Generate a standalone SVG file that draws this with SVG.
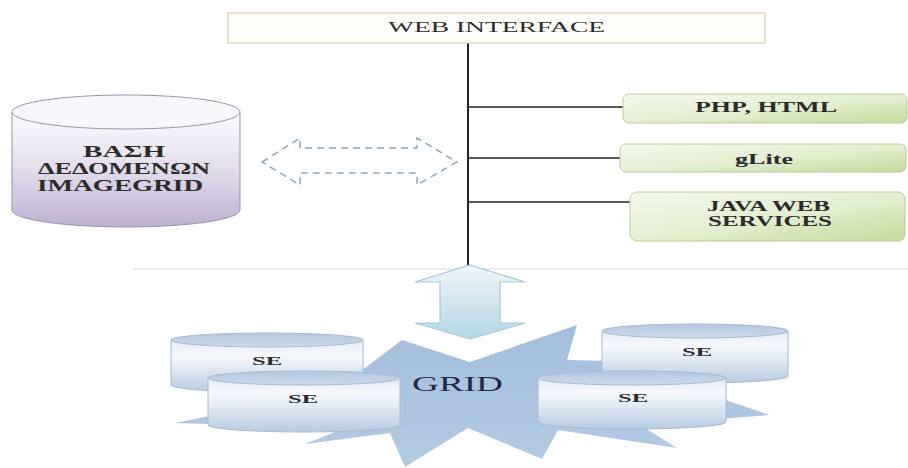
<svg xmlns="http://www.w3.org/2000/svg" width="908" height="468" viewBox="0 0 908 468">
<defs>
  <linearGradient id="gGreen" x1="0" y1="0" x2="1" y2="1">
    <stop offset="0" stop-color="#f4f9ec"/>
    <stop offset="0.55" stop-color="#e2eece"/>
    <stop offset="1" stop-color="#c3da9c"/>
  </linearGradient>
  <linearGradient id="gDb" x1="0" y1="0" x2="0" y2="1">
    <stop offset="0" stop-color="#fdfcfe"/>
    <stop offset="0.45" stop-color="#e6e0ee"/>
    <stop offset="1" stop-color="#bdb0d2"/>
  </linearGradient>
  <linearGradient id="gSe" x1="0" y1="0" x2="0" y2="1">
    <stop offset="0" stop-color="#e4ecf6"/>
    <stop offset="0.3" stop-color="#f7f9fc"/>
    <stop offset="1" stop-color="#b7cbe2"/>
  </linearGradient>
  <linearGradient id="gSeTop" x1="0" y1="0" x2="0" y2="1">
    <stop offset="0" stop-color="#b3c7df"/>
    <stop offset="1" stop-color="#cbd9ea"/>
  </linearGradient>
  <linearGradient id="gStar" x1="0" y1="0" x2="0" y2="1">
    <stop offset="0" stop-color="#a3bddb"/>
    <stop offset="1" stop-color="#b4cbe3"/>
  </linearGradient>
  <linearGradient id="gArrow" x1="0" y1="0" x2="0" y2="1">
    <stop offset="0" stop-color="#eef6fa"/>
    <stop offset="1" stop-color="#b5d6e6"/>
  </linearGradient>
  <style>
    .t { font-family: "Liberation Serif", "Times New Roman", serif; fill: #2b2b2b; text-anchor: middle; }
    .b { font-weight: bold; }
    .green { fill: url(#gGreen); stroke: #b7cd97; stroke-width: 1; }
    .line { stroke: #222; fill: none; }
    .se-body { fill: url(#gSe); stroke: #a6bad2; stroke-width: 1; }
    .se-top { fill: url(#gSeTop); stroke: #a6bad2; stroke-width: 1; }
  </style>
</defs>
<rect width="908" height="468" fill="#ffffff"/>

<!-- separator -->
<line x1="133" y1="269" x2="908" y2="269" stroke="#ececec" stroke-width="2"/>

<g id="connectors">
  <line class="line" x1="468" y1="43" x2="468" y2="266" stroke-width="2"/>
  <line class="line" x1="468" y1="107" x2="623" y2="107" stroke-width="1.5"/>
  <line class="line" x1="468" y1="158" x2="620" y2="158" stroke-width="1.5"/>
  <line class="line" x1="468" y1="202" x2="630" y2="202" stroke-width="1.5"/>
  <path id="dashArrow" d="M262,162 L300,138 L300,148 L417,148 L417,138 L457,162 L417,185 L417,173 L300,173 L300,185 Z" fill="#ffffff" stroke="#8ea8ba" stroke-width="1.5" stroke-dasharray="7,5"/>
  <path id="vArrow" d="M470,265 L525,282 L500,282 L500,323 L525,323 L470,339 L415,323 L440,323 L440,282 L415,282 Z" fill="url(#gArrow)" stroke="#a6c9d8" stroke-width="1.2"/>
</g>

<g id="web-interface">
  <rect x="228" y="13" width="537" height="30" fill="#fffdf9" stroke="#d8ccb6" stroke-width="1.2"/>
  <text class="t" x="496.5" y="32" font-size="15" textLength="217" lengthAdjust="spacingAndGlyphs">WEB INTERFACE</text>
</g>

<g id="php-html">
  <rect class="green" x="623" y="94" width="284" height="29" rx="6"/>
  <text class="t b" x="766" y="112" font-size="14" textLength="142" lengthAdjust="spacingAndGlyphs">PHP, HTML</text>
</g>

<g id="glite">
  <rect class="green" x="620" y="144" width="286" height="28" rx="6"/>
  <text class="t b" x="764" y="164" font-size="14" textLength="58" lengthAdjust="spacingAndGlyphs">gLite</text>
</g>

<g id="java-ws">
  <rect class="green" x="630" y="192" width="275" height="49" rx="7"/>
  <text class="t b" x="768.5" y="211" font-size="14" textLength="123" lengthAdjust="spacingAndGlyphs">JAVA WEB</text>
  <text class="t b" x="770" y="226" font-size="14" textLength="124" lengthAdjust="spacingAndGlyphs">SERVICES</text>
</g>

<g id="database">
  <path d="M12,112 L12,210 A114,17 0 0 0 240,210 L240,112 Z" fill="url(#gDb)" stroke="#9a93a8" stroke-width="1"/>
  <ellipse cx="126" cy="112" rx="114" ry="17" fill="#f8f7fb" stroke="#9a93a8" stroke-width="1"/>
  <text class="t b" x="124" y="157" font-size="16" textLength="82" lengthAdjust="spacingAndGlyphs">ΒΑΣΗ</text>
  <text class="t b" x="124" y="174" font-size="16" textLength="172" lengthAdjust="spacingAndGlyphs">ΔΕΔΟΜΕΝΩΝ</text>
  <text class="t b" x="120" y="191" font-size="16" textLength="166" lengthAdjust="spacingAndGlyphs">IMAGEGRID</text>
</g>

<g id="grid">
  <path d="M402,340 L470,362 L577,325 L567,360 L610,361 L770,415 L640,425 L677,448 L558,430 L542,459 L468,428 L405,467 L390,433 L305,444 L345,428 L175,423 L250,408 L365,368 Z" fill="url(#gStar)"/>
  <text class="t" x="457.5" y="391" font-size="20" textLength="91" lengthAdjust="spacingAndGlyphs" style="fill:#1d2b45">GRID</text>
</g>

<g id="se1">
  <path class="se-body" d="M171,340 L171,385 A96,7 0 0 0 363,385 L363,340 Z"/>
  <ellipse class="se-top" cx="267" cy="340" rx="96" ry="7"/>
  <text class="t b" x="267" y="365" font-size="13" textLength="30" lengthAdjust="spacingAndGlyphs">SE</text>
</g>

<g id="se2">
  <path class="se-body" d="M208,378 L208,425 A96,7 0 0 0 400,425 L400,378 Z"/>
  <ellipse class="se-top" cx="304" cy="378" rx="96" ry="7"/>
  <text class="t b" x="303" y="403" font-size="13" textLength="30" lengthAdjust="spacingAndGlyphs">SE</text>
</g>

<g id="se3">
  <path class="se-body" d="M602,331 L602,376 A93,7 0 0 0 788,376 L788,331 Z"/>
  <ellipse class="se-top" cx="695" cy="331" rx="93" ry="7"/>
  <text class="t b" x="697" y="356" font-size="13" textLength="30" lengthAdjust="spacingAndGlyphs">SE</text>
</g>

<g id="se4">
  <path class="se-body" d="M538,378 L538,422 A94,7 0 0 0 726,422 L726,378 Z"/>
  <ellipse class="se-top" cx="632" cy="378" rx="94" ry="7"/>
  <text class="t b" x="633" y="402" font-size="13" textLength="30" lengthAdjust="spacingAndGlyphs">SE</text>
</g>
</svg>
